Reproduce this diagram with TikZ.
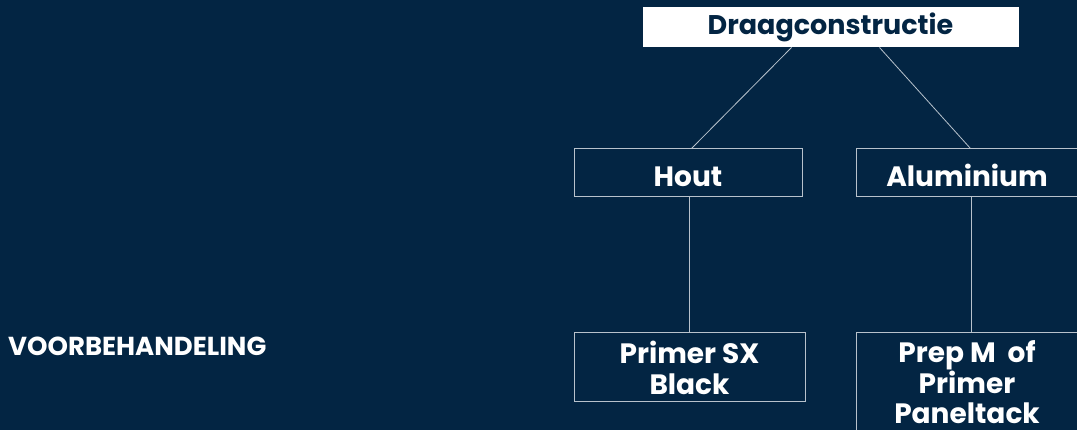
\documentclass[tikz,border=0pt]{standalone}
\usepackage{fontspec}
\setmainfont{Poppins}[BoldFont={Poppins Bold}]
\definecolor{bg}{HTML}{032543}
\definecolor{edge}{HTML}{B8C2CC}
\begin{document}
\begin{tikzpicture}[x=1pt,y=-1pt,
  box/.style={draw=edge,line width=1pt,inner sep=0pt,align=center,text=white,
    font=\fontsize{28}{31}\selectfont\bfseries},
  onebox/.style={box,text height=28pt,text depth=0pt},
  conn/.style={draw=edge,line width=0.8pt}]
\fill[bg] (0,0) rectangle (1077,430);
\useasboundingbox (0,0) rectangle (1077,430);
\node[box,fill=white,draw=white,text=bg,font=\fontsize{27}{31}\selectfont\bfseries,minimum width=375pt,minimum height=39pt] (top) at (830.5,27.5) {Draagconstructie};
\node[onebox,minimum width=228pt,minimum height=48pt] (hout) at (688,173) {Hout};
\node[onebox,minimum width=222pt,minimum height=48pt] (alu) at (967,173) {Aluminium};
\node[box,minimum width=231pt,minimum height=69pt] (primer) at (689.5,367.5) {Primer SX\\Black};
\node[box,font=\fontsize{28}{29.5}\selectfont\bfseries,minimum width=222pt,minimum height=98pt] (prep) at (967,382) {Prep M\ \ of\\Primer\\Paneltack};
\node[text=white,anchor=west,inner sep=0pt,font=\fontsize{26}{28}\selectfont\bfseries] (lab) at (8,346) {VOORBEHANDELING};
\draw[conn] ([xshift=149pt]top.south west) -- ([xshift=118pt]hout.north west);
\draw[conn] ([xshift=237pt]top.south west) -- ([xshift=115pt]alu.north west);
\draw[conn] ([xshift=116pt]hout.south west) -- ([xshift=116pt]primer.north west);
\draw[conn] ([xshift=116pt]alu.south west) -- ([xshift=116pt]prep.north west);
\end{tikzpicture}
\end{document}
